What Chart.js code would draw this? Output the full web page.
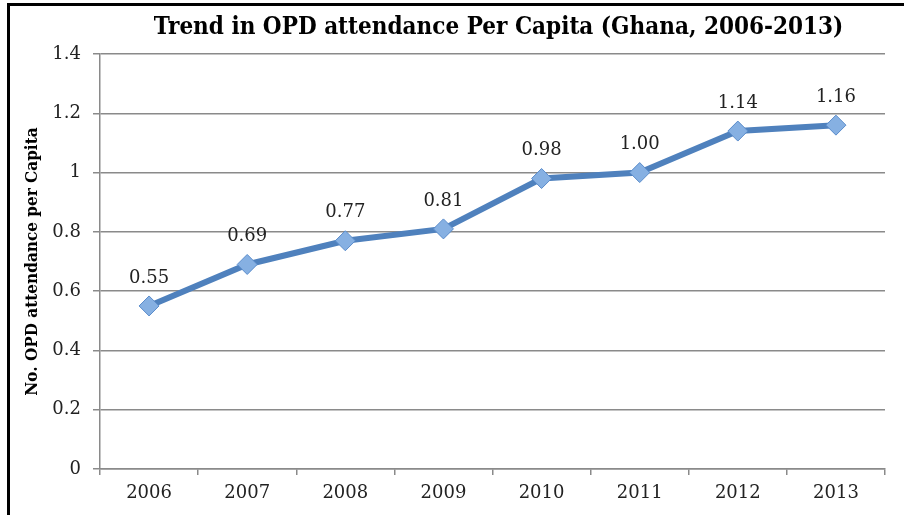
<!DOCTYPE html>
<html>
<head>
<meta charset="utf-8">
<script src="https://cdn.jsdelivr.net/npm/chart.js@4.4.1/dist/chart.umd.min.js"></script>
<style>
  body { margin: 0; background: #fff; }
  #wrap { position: relative; width: 904px; height: 515px; overflow: hidden; }
  #frameTop { position: absolute; left: 7px; top: 3px; width: 897px; height: 3px; background: #000; }
  #frameLeft { position: absolute; left: 7px; top: 3px; width: 3px; height: 512px; background: #000; }
  canvas { position: absolute; left: 0; top: 0; }
</style>
</head>
<body>
<div id="wrap">
  <canvas id="opdChart" width="904" height="515"></canvas>
  <div id="frameTop"></div>
  <div id="frameLeft"></div>
</div>
<script>
// data
const years = ['2006', '2007', '2008', '2009', '2010', '2011', '2012', '2013'];
const opdPerCapita = [0.55, 0.69, 0.77, 0.81, 0.98, 1.00, 1.14, 1.16];
const yTicks = [0, 0.2, 0.4, 0.6, 0.8, 1, 1.2, 1.4];
const chartTitle = 'Trend in OPD attendance Per Capita (Ghana, 2006-2013)';

const serif = "'DejaVu Serif', 'Liberation Serif', serif";
const serifCond = "'DejaVu Serif Condensed', 'Liberation Serif', serif";

// title drawn by hand so it can sit a little right of the plot centre
const titlePlugin = {
    id: 'titlePlugin',
    beforeDraw(chart) {
        const ctx = chart.ctx;
        const area = chart.chartArea;
        ctx.save();
        ctx.font = 'bold 24px ' + serifCond;
        ctx.fillStyle = '#000';
        ctx.textAlign = 'center';
        ctx.textBaseline = 'middle';
        ctx.fillText(chartTitle, (area.left + area.right) / 2 + 6, 28);
        ctx.restore();
    }
};

// value labels above each point
const pointLabels = {
    id: 'pointLabels',
    afterDatasetsDraw(chart) {
        const ctx = chart.ctx;
        const meta = chart.getDatasetMeta(0);
        ctx.save();
        ctx.font = '18px ' + serif;
        ctx.fillStyle = '#222';
        ctx.textAlign = 'center';
        ctx.textBaseline = 'middle';
        meta.data.forEach((pt, i) => {
            ctx.fillText(opdPerCapita[i].toFixed(2), pt.x, pt.y - 28);
        });
        ctx.restore();
    }
};

const ctx = document.getElementById('opdChart').getContext('2d');
new Chart(ctx, {
    type: 'line',
    data: {
        labels: years,
        datasets: [{
            label: 'OPD attendance per capita',
            data: opdPerCapita,
            borderColor: '#4f81bd',
            borderWidth: 6,
            pointStyle: 'rectRot',
            pointRadius: 10,
            pointBackgroundColor: '#86b0e2',
            pointBorderColor: '#5a8ccb',
            pointBorderWidth: 1,
            tension: 0,
            fill: false
        }]
    },
    options: {
        responsive: false,
        animation: false,
        layout: { padding: { left: 10, right: 19, top: 54, bottom: 0 } },
        plugins: {
            legend: { display: false },
            tooltip: { enabled: false },
            title: { display: false }
        },
        scales: {
            x: {
                offset: true,
                grid: {
                    offset: true,
                    drawOnChartArea: false,
                    drawTicks: true,
                    tickLength: 6,
                    color: '#8a8a8a',
                    lineWidth: 1.5
                },
                border: { color: '#8a8a8a', width: 1.5 },
                ticks: { color: '#222', padding: 8, font: { family: serif, size: 18 } },
                afterFit(scale) { scale.height = 46; }
            },
            y: {
                min: 0,
                max: 1.4,
                afterBuildTicks(scale) { scale.ticks = yTicks.map(v => ({ value: v })); },
                grid: { color: '#8a8a8a', lineWidth: 1.5, tickLength: 7 },
                border: { color: '#8a8a8a', width: 1.5 },
                ticks: {
                    color: '#222',
                    padding: 12,
                    font: { family: serif, size: 18 },
                    callback: v => String(v)
                },
                title: {
                    display: true,
                    text: 'No. OPD attendance per Capita',
                    color: '#000',
                    font: { family: serifCond, size: 17, weight: 'bold' },
                    padding: { top: 12, bottom: 0 }
                },
                afterFit(scale) { scale.width = 90; }
            }
        }
    },
    plugins: [titlePlugin, pointLabels]
});
</script>
</body>
</html>
